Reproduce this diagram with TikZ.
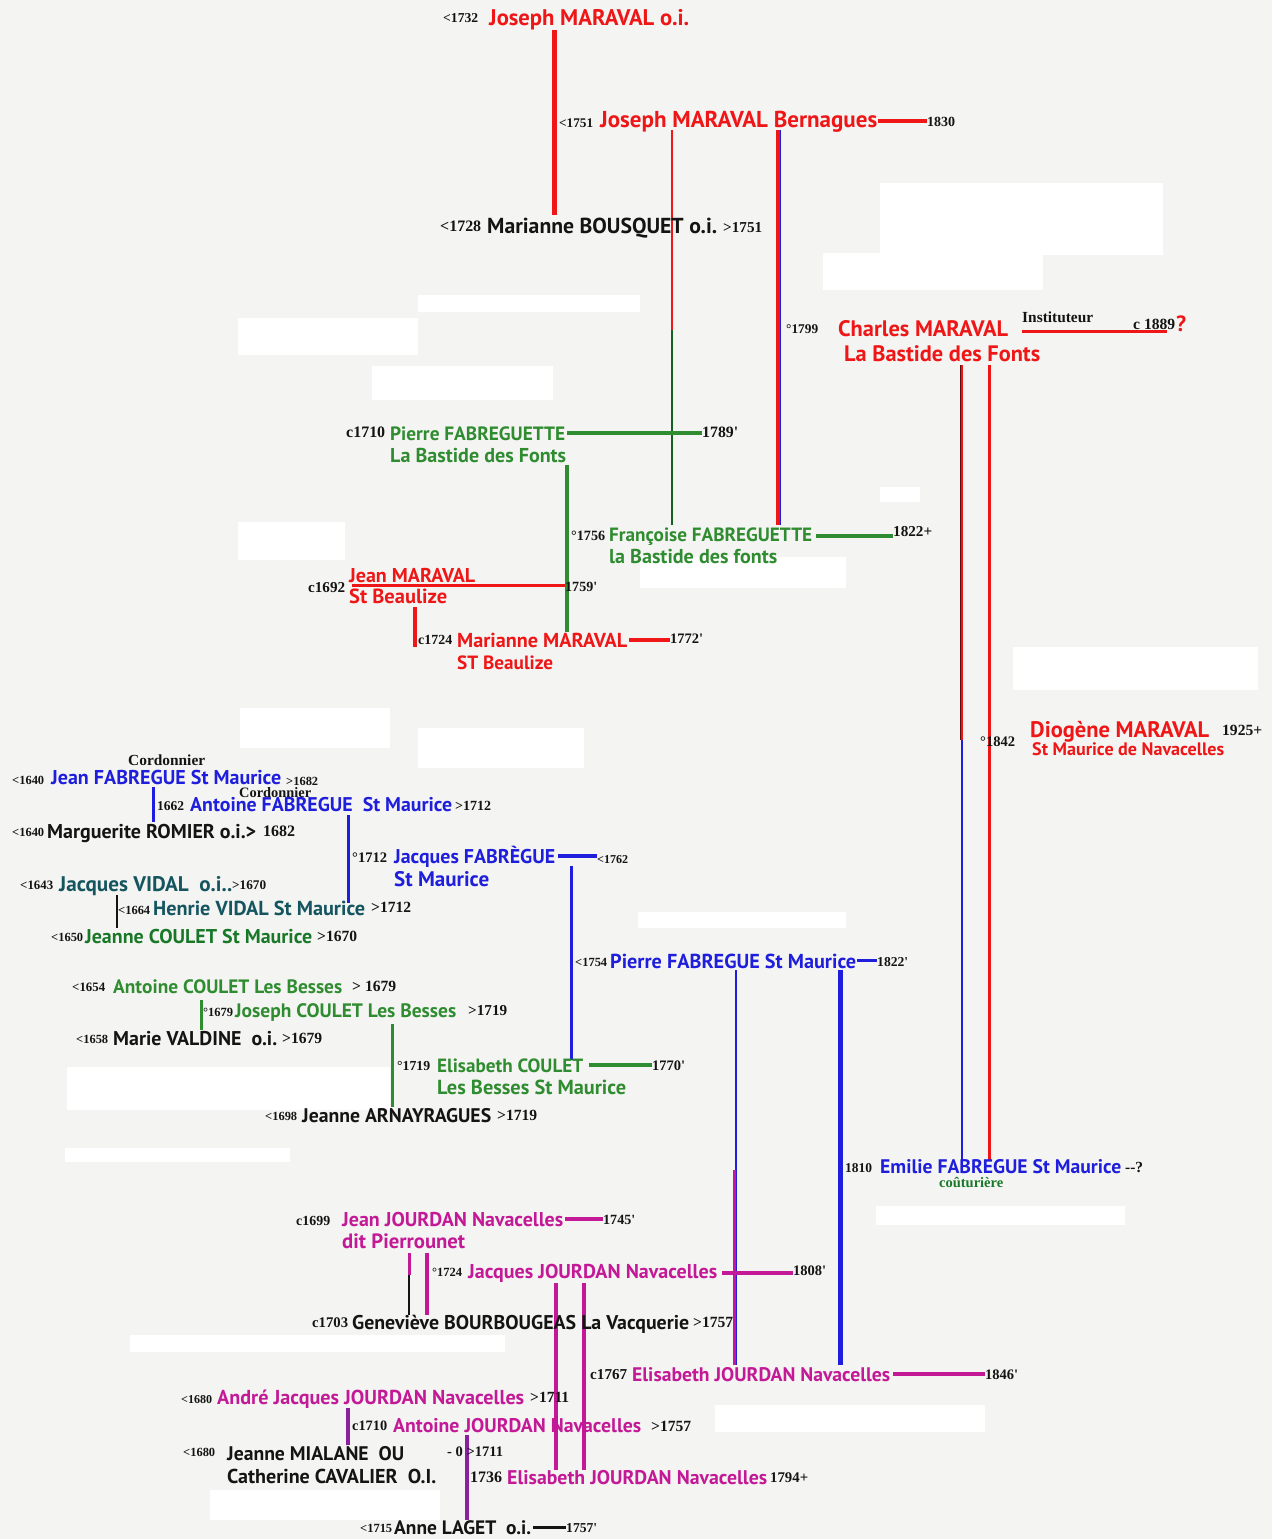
\documentclass[tikz,border=0pt]{standalone}
\usepackage{fontspec}
\usepackage{graphicx}
\setmainfont{PT Sans}
\newfontfamily\dtf{Liberation Serif}
\definecolor{cred}{RGB}{238,22,22}
\definecolor{cgreen}{RGB}{48,140,48}
\definecolor{cdgreen}{RGB}{25,120,40}
\definecolor{cblue}{RGB}{30,30,220}
\definecolor{cteal}{RGB}{20,85,95}
\definecolor{cmag}{RGB}{195,25,150}
\definecolor{cpur}{RGB}{140,30,160}
\definecolor{cblk}{RGB}{20,20,20}
\definecolor{bgc}{RGB}{244,244,242}
\newcommand\fw[2]{\resizebox{#1pt}{!}{#2}}
\tikzset{
  nm/.style={anchor=base west, inner sep=0pt, font=\bfseries\fontsize{18}{20}\selectfont},
  dt/.style={anchor=base west, inner sep=0pt, text=cblk, font=\dtf\bfseries\fontsize{11}{12}\selectfont},
  jb/.style={anchor=base west, inner sep=0pt, font=\dtf\bfseries\fontsize{12}{13}\selectfont},
  ln/.style={line width=#1pt},
  wbox/.style={fill=white, draw=none}
}
\begin{document}
\begin{tikzpicture}[x=1pt,y=-1pt]
\useasboundingbox (0,0) rectangle (1272,1539);
\fill[bgc] (0,0) rectangle (1272,1539);
% scan whiteouts
\foreach \a/\b/\c/\d in {880/183/1163/255, 823/253/1043/290, 418/295/640/312, 238/318/418/355,
  372/366/553/400, 238/522/345/560, 880/487/920/502, 640/557/846/588, 1013/647/1258/690,
  240/708/390/748, 418/728/584/768, 638/912/846/928, 67/1067/390/1110, 65/1148/290/1162,
  876/1206/1125/1225, 130/1335/505/1352, 715/1405/985/1432, 210/1490/440/1520}
  \fill[wbox] (\a,\b) rectangle (\c,\d);

% ---------- coordinates for line ends ----------
\coordinate (a1) at (554,30);   \coordinate (a2) at (554,215);
\coordinate (b1) at (672,130);  \coordinate (b2) at (672,330);  \coordinate (b3) at (672,525);
\coordinate (c1) at (778,130);  \coordinate (c2) at (778,525);
\coordinate (c3) at (780.5,130);\coordinate (c4) at (780.5,525);
\coordinate (e1) at (962,365);  \coordinate (e2) at (962,740);  \coordinate (e3) at (962,1160);
\coordinate (e0) at (960.3,365);  \coordinate (e00) at (960.3,740);
\coordinate (f1) at (989,365);  \coordinate (f2) at (989,1160);
\coordinate (g1) at (567,465);  \coordinate (g2) at (567,632);
\coordinate (h1) at (352,585);
\coordinate (i1) at (415,607);  \coordinate (i2) at (415,647);
\coordinate (k1) at (1022,331); \coordinate (k2) at (1167,331);
\coordinate (l1) at (153,787);  \coordinate (l2) at (153,822);
\coordinate (m1) at (348,815);  \coordinate (m2) at (348,903);
\coordinate (o1) at (571,866);  \coordinate (o2) at (571,1060);
\coordinate (p1) at (117,895);  \coordinate (p2) at (117,928);
\coordinate (q1) at (736,970);  \coordinate (q2) at (736,1365);
\coordinate (q3) at (734.5,1170); \coordinate (q4) at (734.5,1365);
\coordinate (r1) at (840,970);  \coordinate (r2) at (840,1365);
\coordinate (s1) at (201,1000); \coordinate (s2) at (201,1030);
\coordinate (t1) at (392,1024); \coordinate (t2) at (392,1107);
\coordinate (u1) at (409,1253); \coordinate (u2) at (409,1275); \coordinate (u3) at (409,1315);
\coordinate (u4) at (427,1253); \coordinate (u5) at (427,1315);
\coordinate (w1) at (556,1283); \coordinate (w2) at (556,1470);
\coordinate (w3) at (584,1283); \coordinate (w4) at (584,1470);
\coordinate (y1) at (348,1408); \coordinate (y2) at (348,1445);
\coordinate (z1) at (467,1435); \coordinate (z2) at (467,1520);
\coordinate (jl) at (722,1273);

% ---------- vertical connectors ----------
\draw[cred, ln=5] (a1) -- (a2);
\draw[cred, ln=2] (b1) -- (b2);
\draw[cdgreen!80!black, ln=2] (b2) -- (b3);
\draw[cred, ln=4] (c1) -- (c2);
\draw[cblue, ln=1.5] (c3) -- (c4);
\draw[cred, ln=2] (e1) -- (e2);
\draw[cblk!70!red, ln=0.8] (e0) -- (e00);
\draw[cblue, ln=2.5] (e2) -- (e3);
\draw[cred, ln=3] (f1) -- (f2);
\draw[cgreen, ln=4] (g1) -- (g2);
\draw[cred, ln=4] (i1) -- (i2);
\draw[cblue, ln=3] (l1) -- (l2);
\draw[cblue, ln=3] (m1) -- (m2);
\draw[cblue, ln=3] (o1) -- (o2);
\draw[cblk, ln=1.5] (p1) -- (p2);
\draw[cblue, ln=2.5] (q1) -- (q2);
\draw[cmag, ln=2.5] (q3) -- (q4);
\draw[cblue, ln=5] (r1) -- (r2);
\draw[cgreen, ln=3] (s1) -- (s2);
\draw[cgreen, ln=3] (t1) -- (t2);
\draw[cmag, ln=3] (u1) -- (u2);
\draw[cblk, ln=1.2] (u2) -- (u3);
\draw[cmag, ln=4] (u4) -- (u5);
\draw[cmag, ln=3.5] (w1) -- (w2);
\draw[cmag, ln=3.5] (w3) -- (w4);
\draw[cpur, ln=4] (y1) -- (y2);
\draw[cpur, ln=4] (z1) -- (z2);

% ---------- MARAVAL top ----------
\node[dt] (d1732) at (443,23) {\fw{35}{<1732}};
\node[nm, text=cred] (jm1) at (489,25) {\fw{200}{Joseph MARAVAL o.i.}};
\node[dt] (d1751a) at (559,127) {\fw{34}{<1751}};
\node[nm, text=cred] (jm2) at (600,127) {\fw{277}{Joseph MARAVAL Bernagues}};
\node[dt] (d1830) at (927,126) {\fw{28}{1830}};
\draw[cred, ln=4] ([xshift=1pt]jm2.east) -- (jm2.east -| d1830.west);
\node[dt] (d1728) at (440,231) {\fw{41}{<1728}};
\node[nm, text=cblk] (mb) at (487,233) {\fw{230}{Marianne BOUSQUET o.i.}};
\node[dt] (d1751b) at (723,232) {\fw{39}{>1751}};

% ---------- Charles ----------
\node[dt] (d1799) at (786,333) {\fw{32}{°1799}};
\node[nm, text=cred] (cm) at (838,336) {\fw{170}{Charles MARAVAL}};
\node[nm, text=cred] (cm2) at (844,361) {\fw{196}{La Bastide des Fonts}};
\node[jb, text=cblk] (inst) at (1022,322) {\fw{71}{Instituteur}};
\draw[cred, ln=3] (k1) -- (k2);
\node[dt] (d1889) at (1133,329) {\fw{42}{c 1889}};
\node[nm, text=cred] (qm) at (1176,331) {\fw{10}{?}};

% ---------- Diogene ----------
\node[dt] (d1842) at (980,746) {\fw{35}{°1842}};
\node[nm, text=cred] (dm) at (1030,737) {\fw{179}{Diogène MARAVAL}};
\node[dt] (d1925) at (1222,735) {\fw{40}{1925+}};
\node[nm, text=cred] (dm2) at (1032,755) {\fw{192}{St Maurice de Navacelles}};

% ---------- FABREGUETTE ----------
\node[dt] (d1710a) at (346,437) {\fw{39}{c1710}};
\node[nm, text=cgreen] (pf) at (390,440) {\fw{175}{Pierre FABREGUETTE}};
\node[nm, text=cgreen] (pf2) at (390,462) {\fw{176}{La Bastide des Fonts}};
\node[dt] (d1789) at (702,437) {\fw{36}{1789'}};
\draw[cgreen, ln=4] ([xshift=2pt]pf.east) -- (pf.east -| d1789.west);
\node[dt] (d1756) at (571,540) {\fw{34}{°1756}};
\node[nm, text=cgreen] (ff) at (609,541) {\fw{203}{Françoise FABREGUETTE}};
\node[nm, text=cgreen] (ff2) at (609,563) {\fw{168}{la Bastide des fonts}};
\node[dt] (d1822a) at (893,536) {\fw{39}{1822+}};
\draw[cgreen, ln=4] ([xshift=4pt]ff.east) -- (ff.east -| d1822a.west);

% ---------- Jean / Marianne MARAVAL ----------
\node[dt] (d1692) at (308,592) {\fw{37}{c1692}};
\node[nm, text=cred] (jnm) at (349,582) {\fw{126}{Jean MARAVAL}};
\node[nm, text=cred] (jnm2) at (349,603) {\fw{98}{St Beaulize}};
\node[dt] (d1759) at (565,591) {\fw{32}{1759'}};
\draw[cred, ln=3] (h1) -- (h1 -| d1759.west);
\node[dt] (d1724a) at (418,644) {\fw{34}{c1724}};
\node[nm, text=cred] (mm) at (457,647) {\fw{170}{Marianne MARAVAL}};
\node[nm, text=cred] (mm2) at (457,669) {\fw{96}{ST Beaulize}};
\node[dt] (d1772) at (670,643) {\fw{33}{1772'}};
\draw[cred, ln=4] ([xshift=2pt]mm.east) -- (mm.east -| d1772.west);

% ---------- FABREGUE left ----------
\node[jb, text=cblk] (cord1) at (128,765) {\fw{77}{Cordonnier}};
\node[dt] (d1640a) at (12,784) {\fw{32}{<1640}};
\node[nm, text=cblue] (jf) at (51,784) {\fw{230}{Jean FABREGUE St Maurice}};
\node[dt] (d1682a) at (286,785) {\fw{32}{>1682}};
\node[jb, text=cblk] (cord2) at (239,797) {\fw{72}{Cordonnier}};
\node[dt] (d1662) at (157,810) {\fw{27}{1662}};
\node[nm, text=cblue] (af) at (190,811) {\fw{262}{Antoine FABREGUE\ \ St Maurice}};
\node[dt] (d1712a) at (455,810) {\fw{36}{>1712}};
\node[dt] (d1640b) at (12,836) {\fw{32}{<1640}};
\node[nm, text=cblk] (mr) at (47,838) {\fw{209}{Marguerite ROMIER o.i.>}};
\node[dt] (d1682b) at (263,836) {\fw{32}{1682}};
\node[dt] (d1712b) at (352,862) {\fw{35}{°1712}};
\node[nm, text=cblue] (jqf) at (394,863) {\fw{161}{Jacques FABRÈGUE}};
\node[nm, text=cblue] (jqf2) at (394,886) {\fw{95}{St Maurice}};
\node[dt] (d1762) at (597,863) {\fw{31}{<1762}};
\draw[cblue, ln=4] ([xshift=3pt]jqf.east) -- (jqf.east -| d1762.west);

% ---------- VIDAL ----------
\node[dt] (d1643) at (20,889) {\fw{33}{<1643}};
\node[nm, text=cteal] (jv) at (59,891) {\fw{173}{Jacques VIDAL\ \ o.i..}};
\node[dt] (d1670a) at (232,889) {\fw{34}{>1670}};
\node[dt] (d1664) at (118,914) {\fw{32}{<1664}};
\node[nm, text=cteal] (hv) at (153,915) {\fw{212}{Henrie VIDAL St Maurice}};
\node[dt] (d1712c) at (371,912) {\fw{40}{>1712}};
\node[dt] (d1650) at (51,941) {\fw{32}{<1650}};
\node[nm, text=cdgreen] (jc) at (85,943) {\fw{227}{Jeanne COULET St Maurice}};
\node[dt] (d1670b) at (317,941) {\fw{40}{>1670}};

% ---------- Pierre FABREGUE ----------
\node[dt] (d1754) at (575,966) {\fw{32}{<1754}};
\node[nm, text=cblue] (pfb) at (610,968) {\fw{246}{Pierre FABREGUE St Maurice}};
\node[dt] (d1822b) at (877,966) {\fw{31}{1822'}};
\draw[cblue, ln=3] ([xshift=1pt]pfb.east) -- (pfb.east -| d1822b.west);

% ---------- COULET ----------
\node[dt] (d1654) at (72,991) {\fw{33}{<1654}};
\node[nm, text=cgreen] (ac) at (113,993) {\fw{229}{Antoine COULET Les Besses}};
\node[dt] (d1679a) at (352,991) {\fw{44}{> 1679}};
\node[dt] (d1679b) at (203,1016) {\fw{30}{°1679}};
\node[nm, text=cgreen] (jsc) at (235,1017) {\fw{221}{Joseph COULET Les Besses}};
\node[dt] (d1719a) at (468,1015) {\fw{39}{>1719}};
\node[dt] (d1658) at (76,1043) {\fw{32}{<1658}};
\node[nm, text=cblk] (mv) at (113,1045) {\fw{164}{Marie VALDINE\ \ o.i.}};
\node[dt] (d1679c) at (282,1043) {\fw{40}{>1679}};
\node[dt] (d1719b) at (397,1070) {\fw{33}{°1719}};
\node[nm, text=cgreen] (ec) at (437,1072) {\fw{146}{Elisabeth COULET}};
\node[nm, text=cgreen] (ec2) at (437,1094) {\fw{189}{Les Besses St Maurice}};
\node[dt] (d1770) at (652,1070) {\fw{33}{1770'}};
\draw[cgreen, ln=4] ([xshift=6pt]ec.east) -- (ec.east -| d1770.west);
\node[dt] (d1698) at (265,1120) {\fw{32}{<1698}};
\node[nm, text=cblk] (ja) at (302,1122) {\fw{189}{Jeanne ARNAYRAGUES}};
\node[dt] (d1719c) at (497,1120) {\fw{40}{>1719}};

% ---------- Emilie ----------
\node[dt] (d1810) at (845,1172) {\fw{27}{1810}};
\node[nm, text=cblue] (ef) at (880,1173) {\fw{241}{Emilie FABREGUE St Maurice}};
\node[dt] (dq) at (1125,1172) {\fw{18}{--?}};
\node[jb, text=cdgreen] (cout) at (939,1187) {\fw{64}{coûturière}};

% ---------- JOURDAN ----------
\node[dt] (d1699) at (296,1225) {\fw{34}{c1699}};
\node[nm, text=cmag] (jj) at (342,1226) {\fw{221}{Jean JOURDAN Navacelles}};
\node[nm, text=cmag] (jj2) at (342,1248) {\fw{123}{dit Pierrounet}};
\node[dt] (d1745) at (603,1224) {\fw{32}{1745'}};
\draw[cmag, ln=4] ([xshift=2pt]jj.east) -- (jj.east -| d1745.west);
\node[dt] (d1724b) at (432,1276) {\fw{30}{°1724}};
\node[nm, text=cmag] (jqj) at (468,1278) {\fw{249}{Jacques JOURDAN Navacelles}};
\node[dt] (d1808) at (793,1275) {\fw{33}{1808'}};
\draw[cmag, ln=4] (jl) -- (jl -| d1808.west);
\node[dt] (d1703) at (312,1327) {\fw{36}{c1703}};
\node[nm, text=cblk] (gb) at (352,1329) {\fw{337}{Geneviève BOURBOUGEAS La Vacquerie}};
\node[dt] (d1757a) at (693,1327) {\fw{40}{>1757}};
\node[dt] (d1767) at (590,1379) {\fw{37}{c1767}};
\node[nm, text=cmag] (ej1) at (632,1381) {\fw{258}{Elisabeth JOURDAN Navacelles}};
\node[dt] (d1846) at (985,1379) {\fw{33}{1846'}};
\draw[cmag, ln=4] ([xshift=3pt]ej1.east) -- (ej1.east -| d1846.west);
\node[dt] (d1680a) at (181,1403) {\fw{31}{<1680}};
\node[nm, text=cmag] (aj) at (217,1404) {\fw{307}{André Jacques JOURDAN Navacelles}};
\node[dt] (d1711a) at (530,1402) {\fw{39}{>1711}};
\node[dt] (d1710b) at (352,1430) {\fw{35}{c1710}};
\node[nm, text=cmag] (aj2) at (393,1432) {\fw{248}{Antoine JOURDAN Navacelles}};
\node[dt] (d1757b) at (651,1431) {\fw{40}{>1757}};
\node[dt] (d1680b) at (183,1456) {\fw{32}{<1680}};
\node[nm, text=cblk] (jmi) at (227,1460) {\fw{177}{Jeanne MIALANE\ \ OU}};
\node[nm, text=cblk] (ccv) at (227,1483) {\fw{209}{Catherine CAVALIER\ \ O.I.}};
\node[dt] (d1711b) at (447,1456) {\fw{56}{- 0 >1711}};
\node[dt] (d1736) at (470,1482) {\fw{32}{1736}};
\node[nm, text=cmag] (ej2) at (507,1484) {\fw{260}{Elisabeth JOURDAN Navacelles}};
\node[dt] (d1794) at (770,1482) {\fw{38}{1794+}};
\node[dt] (d1715) at (360,1532) {\fw{32}{<1715}};
\node[nm, text=cblk] (al) at (394,1534) {\fw{137}{Anne LAGET\ \ o.i.}};
\node[dt] (d1757c) at (566,1532) {\fw{31}{1757'}};
\draw[cblk, ln=3] ([xshift=2pt]al.east) -- (al.east -| d1757c.west);
\end{tikzpicture}
\end{document}
